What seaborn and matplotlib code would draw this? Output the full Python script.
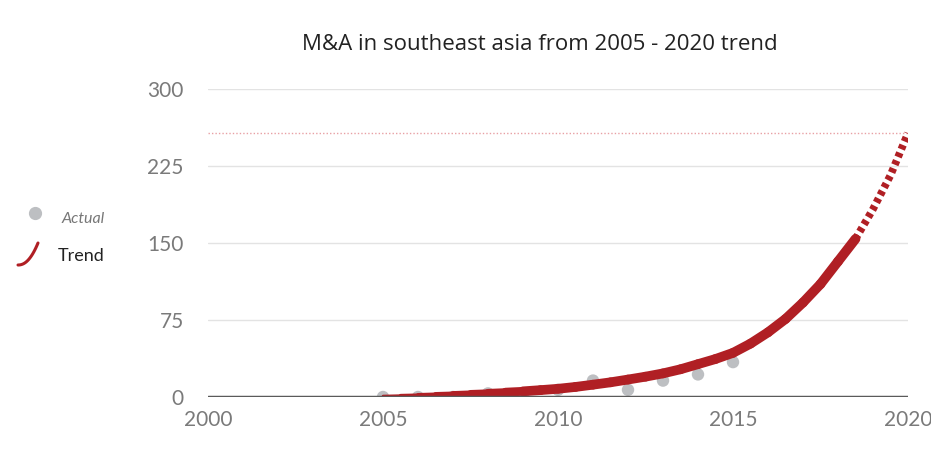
import numpy as np
import pandas as pd
import seaborn as sns
import matplotlib
matplotlib.use("Agg")
import matplotlib.pyplot as plt
from matplotlib.collections import LineCollection
from matplotlib.lines import Line2D

# Observed deal values per year
actual_years = [2005, 2006, 2007, 2008, 2009, 2010, 2011, 2012, 2013, 2014, 2015]
actual_values = [0, 0, 0, 3.5, 0, 7, 16, 7, 16, 22, 34]

# Fitted trend, sampled every half year
trend_years = [2005, 2005.5, 2006, 2006.5, 2007, 2007.5, 2008, 2008.5, 2009, 2009.5,
               2010, 2010.5, 2011, 2011.5, 2012, 2012.5, 2013, 2013.5, 2014, 2014.5,
               2015, 2015.5, 2016, 2016.5, 2017, 2017.5, 2018, 2018.5, 2019, 2019.5, 2020]
trend_values = [1, 1.4, 1.8, 2.3, 2.8, 3.4, 4, 4.7, 5.5, 6.7,
                8, 9.8, 12, 14.3, 17, 19.8, 23, 27, 32, 37,
                43, 52, 63, 76, 92, 110, 132, 154, 183, 216, 257]
projection_start = 2018.5
target_value = 257

y_ticks = [0, 75, 150, 225, 300]
x_ticks = [2000, 2005, 2010, 2015, 2020]

title = "M&A in southeast asia from 2005 - 2020 trend"

RED = "#b01f24"
GREY_DOT = "#bdbfc2"
TICK_GREY = "#7a7a7a"

sns.set_theme(style="white")
plt.rcParams["font.family"] = ["Lato", "DejaVu Sans"]

fig = plt.figure(figsize=(9.31, 4.50), dpi=100)
ax = fig.add_axes([208 / 931, 1 - 397 / 450, 700 / 931, 308 / 450])

actual = pd.DataFrame({"year": actual_years, "value": actual_values})
trend = pd.DataFrame({"year": trend_years, "value": trend_values})
fitted = trend[trend["year"] <= projection_start]
projected = trend[trend["year"] >= projection_start]

# Grid lines
for t in y_ticks[1:]:
    ax.axhline(t, color="#e3e3e3", lw=1.0, zorder=0)
ax.axhline(target_value, color="#e8a0a4", lw=1.0, ls=(0, (1, 1.5)), zorder=1)

sns.scatterplot(data=actual, x="year", y="value", ax=ax, color=GREY_DOT,
                s=80, edgecolor="none", zorder=2, legend=False)

# Fitted part of trend: a band that widens from the start
xs = fitted["year"].to_numpy()
ys = fitted["value"].to_numpy()
pts = np.column_stack([xs, ys]).reshape(-1, 1, 2)
segs = np.concatenate([pts[:-1], pts[1:]], axis=1)
widths = np.clip(1.8 + (xs[:-1] - xs[0]) * 1.3, 1.8, 7.0)
lc = LineCollection(segs, colors=RED, linewidths=widths, capstyle="round", zorder=3)
ax.add_collection(lc)

# Projected part of trend
sns.lineplot(data=projected, x="year", y="value", ax=ax, color=RED, lw=5.5,
             ls=(0, (0.6, 0.5)), zorder=3, legend=False)

ax.axhline(0, color="#5a5a5a", lw=2.5, zorder=4)

ax.set_xlim(2000, 2020)
ax.set_ylim(0, 300)
ax.set_xticks(x_ticks)
ax.set_yticks(y_ticks)
ax.set_xlabel("")
ax.set_ylabel("")
ax.tick_params(axis="both", length=0, labelsize=15, labelcolor=TICK_GREY)
ax.tick_params(axis="y", pad=17.5)
ax.tick_params(axis="x", pad=9)
for s in ax.spines.values():
    s.set_visible(False)
ax.patch.set_alpha(0)

fig.text(540 / 931, 1 - 45 / 450, title, ha="center", va="center",
         fontsize=16, color="#222222", family=["Open Sans", "DejaVu Sans"])

# Legend on the left
fig.lines.append(Line2D([35 / 931], [1 - 213 / 450], transform=fig.transFigure,
                        marker="o", ms=8.5, color=GREY_DOT, ls="none"))
fig.text(62 / 931, 1 - 219 / 450, "Actual", ha="left", va="center",
         fontsize=11.5, style="italic", color="#777777")
t = np.linspace(0, 1, 20)
lx = (18 + 20 * t) / 931
ly = 1 - (265 - 22 * t ** 2.2) / 450
fig.lines.append(Line2D(lx, ly, transform=fig.transFigure, color=RED, lw=2.2,
                        solid_capstyle="round"))
fig.text(58 / 931, 1 - 256 / 450, "Trend", ha="left", va="center",
         fontsize=13, color="#222222")

fig.savefig("out.png", dpi=100)
